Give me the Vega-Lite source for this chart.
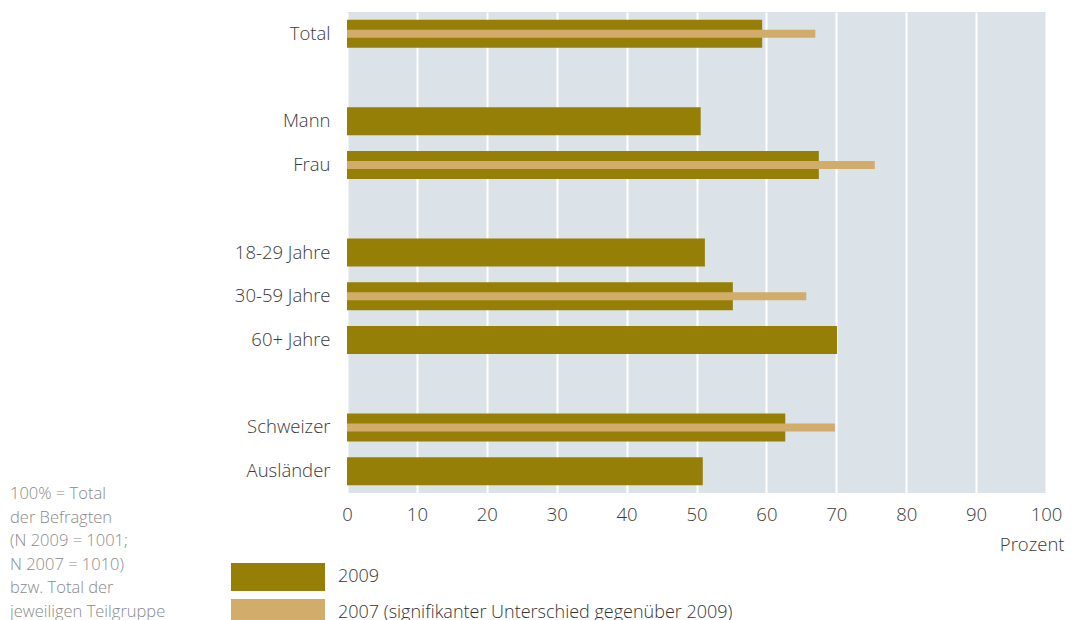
{
  "$schema": "https://vega.github.io/schema/vega-lite/v6.json",
  "autosize": "none",
  "width": 699,
  "height": 481,
  "padding": {"left": 347, "top": 12, "right": 35, "bottom": 127},
  "background": "white",
  "config": {
    "view": {"fill": "#dbe2e8", "stroke": null},
    "font": "Open Sans"
  },
  "title": {
    "text": ["100% = Total", "der Befragten", "(N 2009 = 1001;", "N 2007 = 1010)", "bzw. Total der", "jeweiligen Teilgruppe"],
    "orient": "top",
    "anchor": "start",
    "frame": "group",
    "dx": -337,
    "dy": 612,
    "baseline": "top",
    "fontSize": 16.5,
    "fontWeight": 300,
    "color": "#8a8a8a",
    "lineHeight": 23.5,
    "font": "Open Sans"
  },
  "data": {
    "values": [
      {"cat": "Total", "year": "2009", "value": 59.4},
      {"cat": "Mann", "year": "2009", "value": 50.6},
      {"cat": "Frau", "year": "2009", "value": 67.5},
      {"cat": "18-29 Jahre", "year": "2009", "value": 51.2},
      {"cat": "30-59 Jahre", "year": "2009", "value": 55.2},
      {"cat": "60+ Jahre", "year": "2009", "value": 70.1},
      {"cat": "Schweizer", "year": "2009", "value": 62.7},
      {"cat": "Ausländer", "year": "2009", "value": 50.9},
      {"cat": "Total", "year": "2007 (signifikanter Unterschied gegenüber 2009)", "value": 67.0},
      {"cat": "Frau", "year": "2007 (signifikanter Unterschied gegenüber 2009)", "value": 75.5},
      {"cat": "30-59 Jahre", "year": "2007 (signifikanter Unterschied gegenüber 2009)", "value": 65.7},
      {"cat": "Schweizer", "year": "2007 (signifikanter Unterschied gegenüber 2009)", "value": 69.8}
    ]
  },
  "encoding": {
    "y": {
      "field": "cat",
      "type": "nominal",
      "scale": {
        "domain": ["Total", "g1", "Mann", "Frau", "g2", "18-29 Jahre", "30-59 Jahre", "60+ Jahre", "g3", "Schweizer", "Ausländer"],
        "paddingInner": 0,
        "paddingOuter": 0
      },
      "axis": {
        "title": null,
        "domain": false,
        "ticks": false,
        "labelPadding": 17,
        "labelFontSize": 18.5,
        "labelFontWeight": 300,
        "labelColor": "#3a3a3a",
        "labelFont": "Open Sans",
        "labelExpr": "indexof(['g1','g2','g3'], datum.value) >= 0 ? '' : datum.value"
      }
    },
    "x": {
      "field": "value",
      "type": "quantitative",
      "scale": {"domain": [0, 100], "nice": false},
      "axis": {
        "title": "Prozent",
        "titleAnchor": "end",
        "titleAlign": "right",
        "titleX": 717,
        "titleY": 42,
        "titleFontSize": 18.5,
        "titleFontWeight": 300,
        "titleColor": "#3a3a3a",
        "titleFont": "Open Sans",
        "values": [0, 10, 20, 30, 40, 50, 60, 70, 80, 90, 100],
        "labelFlush": false,
        "domain": false,
        "ticks": false,
        "labelPadding": 12,
        "labelFontSize": 18.5,
        "labelFontWeight": 300,
        "labelColor": "#3a3a3a",
        "labelFont": "Open Sans",
        "gridColor": "white",
        "gridWidth": 2,
        "gridOpacity": 1
      }
    },
    "color": {
      "field": "year",
      "type": "nominal",
      "scale": {
        "domain": ["2009", "2007 (signifikanter Unterschied gegenüber 2009)"],
        "range": ["#967f06", "#d2ac6a"]
      },
      "legend": {
        "title": null,
        "orient": "none",
        "legendX": -83,
        "legendY": 551,
        "padding": 0,
        "symbolType": "M-3.357,-1L3.357,-1L3.357,1L-3.357,1Z",
        "symbolSize": 784,
        "symbolStrokeWidth": 0,
        "symbolOpacity": 1,
        "labelFontSize": 18,
        "labelFontWeight": 300,
        "labelColor": "#333333",
        "labelFont": "Open Sans",
        "labelOffset": 46,
        "rowPadding": 8,
        "labelLimit": 700
      }
    }
  },
  "layer": [
    {
      "transform": [{"filter": "datum.year == '2009'"}],
      "mark": {"type": "bar", "size": 28}
    },
    {
      "transform": [{"filter": "datum.year != '2009'"}],
      "mark": {"type": "bar", "size": 8}
    }
  ]
}
